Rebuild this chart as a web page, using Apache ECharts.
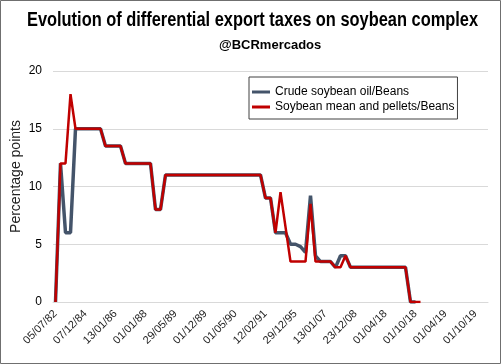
<!DOCTYPE html>
<html>
<head>
<meta charset="utf-8">
<script src="https://cdn.jsdelivr.net/npm/echarts@6/dist/echarts.min.js"></script>
<style>
html,body{margin:0;padding:0;background:#fff;}
#chart{width:501px;height:364px;}
</style>
</head>
<body>
<div id="chart"></div>
<script>
// Tick labels shown on the x axis (every 6th category)
var tickLabels = ['05/07/82','07/12/84','13/01/86','01/01/88','29/05/89','01/12/89','01/05/90','12/02/91','29/12/95','13/01/07','23/12/08','01/04/18','01/10/18','01/04/19','01/10/19'];
var categoryCount = 87;
var labelEvery = 6;

// Crude soybean oil / Beans (percentage points)
var crudeOil = [
  0, 12, 6, 6, 15, 15, 15, 15, 15, 15,
  13.5, 13.5, 13.5, 13.5, 12, 12, 12, 12, 12, 12,
  8, 8, 11, 11, 11, 11, 11, 11, 11, 11,
  11, 11, 11, 11, 11, 11, 11, 11, 11, 11,
  11, 11, 9, 9, 6, 6, 6, 5, 5, 4.8,
  4.3, 9.2, 4, 3.5, 3.5, 3.5, 3, 4, 4, 3,
  3, 3, 3, 3, 3, 3, 3, 3, 3, 3,
  3, 0, 0
];
// Soybean meal and pellets / Beans (percentage points)
var mealPellets = [
  0, 12, 12, 18, 15, 15, 15, 15, 15, 15,
  13.5, 13.5, 13.5, 13.5, 12, 12, 12, 12, 12, 12,
  8, 8, 11, 11, 11, 11, 11, 11, 11, 11,
  11, 11, 11, 11, 11, 11, 11, 11, 11, 11,
  11, 11, 9, 9, 6, 9.5, 6.5, 3.5, 3.5, 3.5,
  3.5, 8.5, 3.5, 3.5, 3.5, 3.5, 3, 3, 4, 3,
  3, 3, 3, 3, 3, 3, 3, 3, 3, 3,
  3, 0, 0, 0
];
var yTicks = {min: 0, max: 20, interval: 5};

var categories = [];
for (var i = 0; i < categoryCount; i++) {
  categories.push(i % labelEvery === 0 ? tickLabels[i / labelEvery] : '');
}

var chart = echarts.init(document.getElementById('chart'), null, {renderer: 'canvas'});
var base = "'Liberation Sans', Arial, sans-serif";
chart.setOption({
  animation: false,
  backgroundColor: '#fff',
  title: [{
    text: '@BCRmercados',
    left: 214, top: 34,
    textStyle: {fontFamily: base, fontWeight: 'bold', fontSize: 13, color: '#000'}
  }],
  legend: {
    orient: 'vertical',
    left: 249, top: 77,
    padding: [8, 3, 5, 3],
    itemGap: 1,
    itemWidth: 18, itemHeight: 3,
    icon: 'rect',
    borderColor: '#404040', borderWidth: 1,
    backgroundColor: '#fff',
    textStyle: {fontFamily: base, fontSize: 12, color: '#000', lineHeight: 14},
    data: ['Crude soybean oil/Beans', 'Soybean mean and pellets/Beans']
  },
  grid: {left: 53, right: 13, top: 71, bottom: 62, containLabel: false, outerBoundsMode: 'none'},
  xAxis: {
    type: 'category',
    data: categories,
    boundaryGap: true,
    axisLine: {lineStyle: {color: '#D9D9D9'}},
    axisTick: {show: false},
    axisLabel: {interval: labelEvery - 1, rotate: 45, margin: 10, fontFamily: base, fontSize: 11, color: '#222'}
  },
  yAxis: {
    type: 'value',
    min: yTicks.min, max: yTicks.max, interval: yTicks.interval,
    name: 'Percentage points',
    nameLocation: 'middle',
    nameRotate: 90,
    nameGap: 30,
    nameMoveOverlap: false,
    nameTextStyle: {fontFamily: base, fontSize: 14, color: '#222', padding: [0, 0, 0, 20]},
    axisLine: {show: false},
    axisTick: {show: false},
    splitLine: {lineStyle: {color: '#D9D9D9', width: 1}},
    axisLabel: {margin: 11, fontFamily: base, fontSize: 12, color: '#000'}
  },
  series: [{
    name: 'Crude soybean oil/Beans',
    type: 'line',
    data: crudeOil,
    symbol: 'none',
    color: '#44546A',
    lineStyle: {color: '#44546A', width: 3.5},
    z: 2
  }, {
    name: 'Soybean mean and pellets/Beans',
    type: 'line',
    data: mealPellets,
    symbol: 'none',
    color: '#C00000',
    lineStyle: {color: '#C00000', width: 2.5},
    z: 3
  }],
  graphic: [{
    type: 'text',
    x: 252.5, y: 20,
    scaleX: 0.82,
    style: {
      text: 'Evolution of differential export taxes on soybean complex',
      font: "bold 20px 'Liberation Sans', Arial, sans-serif",
      fill: '#000',
      textAlign: 'center',
      textVerticalAlign: 'middle'
    }
  }, {
    type: 'rect',
    shape: {x: 0.5, y: 0.5, width: 500, height: 363},
    style: {fill: 'none', stroke: '#6f6f6f', lineWidth: 1},
    silent: true
  }]
});
</script>
</body>
</html>
